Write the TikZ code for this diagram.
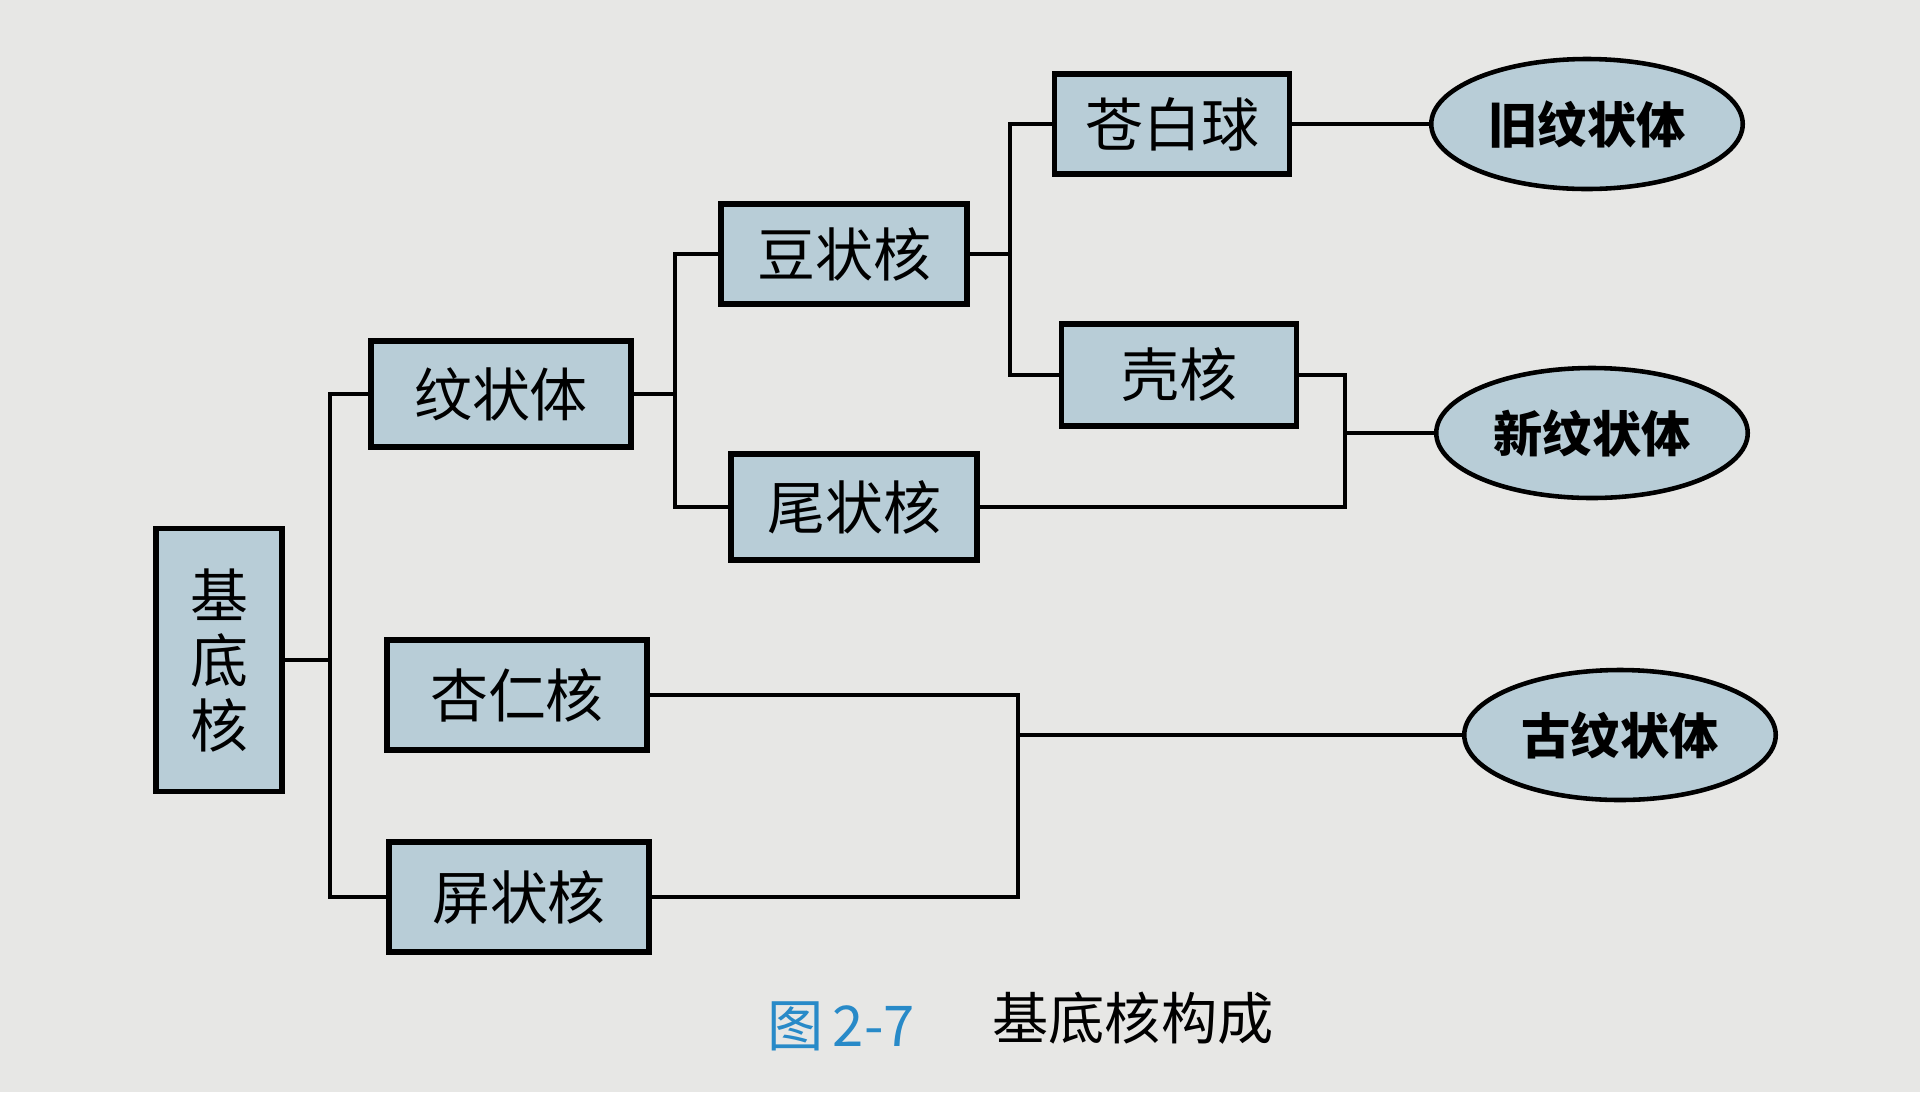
\documentclass[tikz,border=0pt]{standalone}
\usepackage{fontspec}
\usepackage{xcolor}
\usepackage{tikz}
\usetikzlibrary{shapes.geometric}
\newfontfamily\cjk{Noto Sans CJK SC}
\definecolor{paper}{RGB}{231,231,229}
\definecolor{boxblue}{RGB}{184,205,215}
\definecolor{capblue}{RGB}{40,138,200}

\begin{document}
\begin{tikzpicture}[x=0.1mm, y=-0.1mm,
        box/.style={draw, rectangle, fill=boxblue, line width=1.5pt, minimum width=24.6mm, minimum height=10.6mm, font=\cjk\fontsize{16.5}{20}\selectfont},
        oval/.style={draw, ellipse, fill=boxblue, line width=1.3pt, minimum width=30.8mm, minimum height=13mm, font=\cjk\bfseries\fontsize{14}{17}\selectfont},
        link/.style={line width=1.1pt}]
        \fill[paper] (0,0) rectangle (1920,1092);

        \node[box, minimum width=12.6mm, minimum height=26.3mm, align=center, font=\cjk\fontsize{16.5}{18.5}\selectfont] (jidihe) at (219,660) {基\\底\\核};
        \node[box, minimum width=26mm] (wenzhuangti) at (501,394) {纹状体};
        \node[box, minimum width=26mm, minimum height=11mm] (xingrenhe) at (517,695) {杏仁核};
        \node[box, minimum width=26mm, minimum height=11mm] (pingzhuanghe) at (519,897) {屏状核};
        \node[box, minimum height=10mm] (douzhuanghe) at (844,254) {豆状核};
        \node[box] (weizhuanghe) at (854,507) {尾状核};
        \node[box, minimum width=23.5mm, minimum height=10mm] (cangbaiqiu) at (1172,124) {苍白球};
        \node[box, minimum width=23.5mm, minimum height=10.2mm] (kehe) at (1179,375) {壳核};
        \node[oval] (jiu) at (1587,124) {旧纹状体};
        \node[oval] (xin) at (1592,433) {新纹状体};
        \node[oval] (gu) at (1620,735) {古纹状体};

        \coordinate (fork1) at (330,660);
        \coordinate (fork2) at (675,394);
        \coordinate (fork3) at (1010,254);
        \coordinate (fork4) at (1345,433);
        \coordinate (fork5) at (1018,735);

        \draw[link] (jidihe.east) -- (fork1);
        \draw[link] (wenzhuangti.west) -| (fork1) |- (pingzhuanghe.west);
        \draw[link] (wenzhuangti.east) -- (fork2);
        \draw[link] (douzhuanghe.west) -| (fork2) |- (weizhuanghe.west);
        \draw[link] (douzhuanghe.east) -- (fork3);
        \draw[link] (cangbaiqiu.west) -| (fork3) |- (kehe.west);
        \draw[link] (cangbaiqiu.east) -- (jiu.west);
        \draw[link] (kehe.east) -| (fork4) |- (weizhuanghe.east);
        \draw[link] (fork4) -- (xin.west);
        \draw[link] (xingrenhe.east) -| (fork5) |- (pingzhuanghe.east);
        \draw[link] (fork5) -- (gu.west);

        \node[anchor=west, text=capblue, font=\cjk\fontsize{16}{18}\selectfont] (fignum) at (755,1026) {图\,2-7};
        \node[anchor=west, font=\cjk\fontsize{16}{18}\selectfont] (figtitle) at (980,1018) {基底核构成};
    \end{tikzpicture}
\end{document}
